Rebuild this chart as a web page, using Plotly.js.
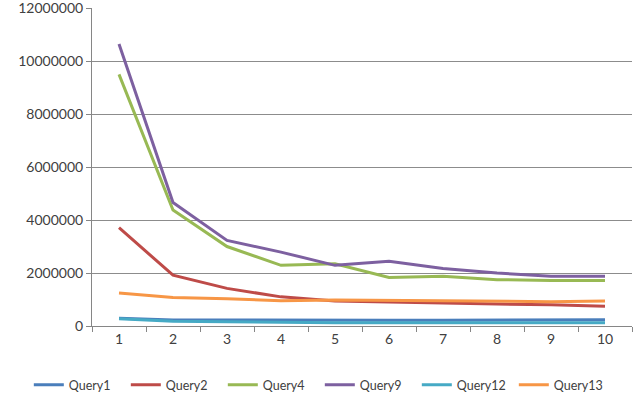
<!DOCTYPE html>
<html>
<head>
<meta charset="utf-8">
<script src="https://cdn.plot.ly/plotly-3.0.1.min.js"></script>
<style>html,body{margin:0;padding:0;background:#fff;}#chart{width:637px;height:406px;}</style>
</head>
<body>
<div id="chart"></div>
<script>
const categories = ["1","2","3","4","5","6","7","8","9","10"];
const seriesNames = ["Query1","Query2","Query4","Query9","Query12","Query13"];
const query1  = [290000, 230000, 225000, 215000, 215000, 220000, 220000, 225000, 230000, 240000];
const query2  = [3710000, 1920000, 1420000, 1100000, 940000, 900000, 850000, 830000, 800000, 750000];
const query4  = [9500000, 4380000, 3000000, 2290000, 2350000, 1830000, 1880000, 1750000, 1720000, 1720000];
const query9  = [10650000, 4660000, 3230000, 2790000, 2290000, 2440000, 2170000, 2000000, 1880000, 1880000];
const query12 = [270000, 180000, 160000, 130000, 120000, 120000, 120000, 120000, 120000, 120000];
const query13 = [1250000, 1080000, 1030000, 950000, 980000, 970000, 950000, 930000, 920000, 940000];
const yTicks = [0, 2000000, 4000000, 6000000, 8000000, 10000000, 12000000];

const seriesValues = [query1, query2, query4, query9, query12, query13];
const colors = ["#4A7EBB", "#BE4B48", "#98B954", "#7D60A0", "#46AAC5", "#F79646"];

const traces = seriesNames.map((name, i) => ({
  x: categories,
  y: seriesValues[i],
  name: name,
  type: "scatter",
  mode: "lines",
  line: {color: colors[i], width: 3}
}));

const layout = {
  width: 637, height: 406,
  margin: {l: 92, r: 5, t: 8, b: 80},
  paper_bgcolor: "#ffffff",
  plot_bgcolor: "#ffffff",
  font: {family: "Lato, 'Open Sans', sans-serif", size: 14, color: "#404040"},
  showlegend: true,
  legend: {
    orientation: "h", x: -0.117, xanchor: "left",
    y: -0.186, yanchor: "middle",
    font: {size: 12.5, color: "#404040"}, itemwidth: 30, tracegroupgap: 0,
    entrywidth: 52, entrywidthmode: "pixels"
  },
  xaxis: {
    type: "category",
    range: [-0.5, 9.5],
    showgrid: false,
    showline: true, linecolor: "#868686", linewidth: 1,
    ticks: "outside", tickson: "boundaries", ticklen: 5, tickcolor: "#868686",
    zeroline: false,
    fixedrange: true
  },
  yaxis: {
    range: [0, 12006000],
    tickvals: yTicks,
    ticktext: yTicks.map(v => String(v)),
    ticklabeloverflow: "allow",
    showgrid: true, gridcolor: "#8c8c8c", gridwidth: 1,
    showline: true, linecolor: "#868686", linewidth: 1,
    ticks: "outside", ticklen: 5, tickcolor: "#868686",
    zeroline: false,
    fixedrange: true
  }
};

Plotly.newPlot("chart", traces, layout, {staticPlot: true, displayModeBar: false});
</script>
</body>
</html>
